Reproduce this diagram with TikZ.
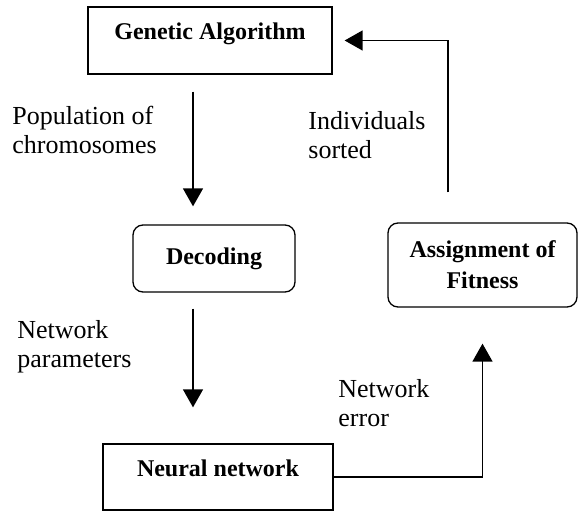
\documentclass[tikz,border=0pt]{standalone}
\usepackage{fontspec}
\setmainfont{Liberation Serif}
\usepackage{tikz}
\usetikzlibrary{arrows.meta}

\begin{document}
\begin{tikzpicture}[x=0.5pt,y=-0.5pt,
    box/.style={draw,line width=0.65pt,inner sep=0pt,font=\fontsize{12}{15.5}\selectfont\bfseries},
    rbox/.style={box,rounded corners=5pt,align=center},
    lbl/.style={anchor=north west,inner sep=0pt,align=left,font=\fontsize{13}{14.5}\selectfont},
    arr/.style={line width=0.7pt,-{Triangle[length=9pt,width=10pt]}}]
    \useasboundingbox (0,0) rectangle (579,513);

    % Draw boxes
    \node[box,minimum width=122pt,text height=16.5pt,text depth=17pt] (ga) at (210,40.5) {Genetic Algorithm};
    \node[rbox,minimum width=81pt,minimum height=33.5pt] (dec) at (214,258.5) {Decoding};
    \node[box,minimum width=115pt,text height=16.5pt,text depth=16.5pt] (nn) at (218,477) {Neural network};
    \node[rbox,minimum width=94.5pt,minimum height=42pt] (fit) at (482.5,265) {Assignment of\\Fitness};

    % Draw labels
    \node[lbl] (pop) at (12,106) {Population of\\chromosomes};
    \node[lbl] (par) at (17,320) {Network\\parameters};
    \node[lbl] (err) at (338,379) {Network\\error};
    \node[lbl] (ind) at (308,111) {Individuals\\sorted};

    % Draw connectors
    \coordinate (xa) at (193,0);
    \coordinate (xb) at (448,0);
    \draw[arr,shorten <=8.5pt,shorten >=9pt] (ga.south -| xa) -- (dec.north -| xa);
    \draw[arr,shorten <=8pt,shorten >=18pt] (dec.south -| xa) -- (nn.north -| xa);
    \draw[arr,shorten >=18pt] (nn.east) -| (fit.south);
    \draw[arr,shorten <=15pt,shorten >=6pt] (fit.north -| xb) |- (ga.east);
\end{tikzpicture}
\end{document}
